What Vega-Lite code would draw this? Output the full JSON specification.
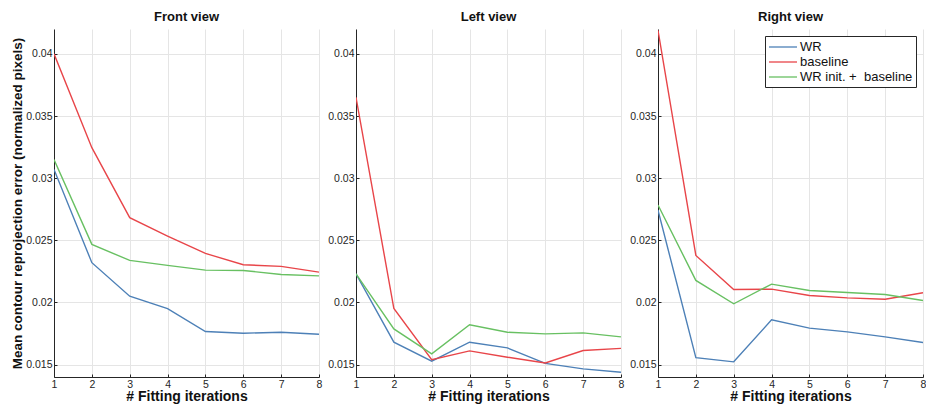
{
  "$schema": "https://vega.github.io/schema/vega-lite/v6.json",
  "background": "white",
  "padding": {"left": 10, "top": 11, "right": 0, "bottom": 0},
  "spacing": 5,
  "config": {
    "view": {"stroke": null},
    "font": "Liberation Sans",
    "axis": {
      "domainColor": "#262626",
      "domainWidth": 1,
      "tickColor": "#262626",
      "gridColor": "#e5e5e5",
      "gridWidth": 1,
      "labelColor": "#262626",
      "labelFont": "Liberation Sans",
      "labelFontSize": 10.5,
      "titleFont": "Liberation Sans",
      "titleFontSize": 14,
      "titleFontWeight": "bold",
      "titleColor": "#111111",
      "tickSize": -3
    },
    "title": {"font": "Liberation Sans", "fontSize": 13, "fontWeight": "bold", "color": "#111111", "offset": 5},
    "legend": {
      "labelFont": "Liberation Sans"
    }
  },
  "data": {
    "values": [
      {"view": "Front", "iter": 1, "method": "WR", "value": 0.0307},
      {"view": "Front", "iter": 2, "method": "WR", "value": 0.0232},
      {"view": "Front", "iter": 3, "method": "WR", "value": 0.0205},
      {"view": "Front", "iter": 4, "method": "WR", "value": 0.0195},
      {"view": "Front", "iter": 5, "method": "WR", "value": 0.01766},
      {"view": "Front", "iter": 6, "method": "WR", "value": 0.01752},
      {"view": "Front", "iter": 7, "method": "WR", "value": 0.0176},
      {"view": "Front", "iter": 8, "method": "WR", "value": 0.01744},
      {"view": "Front", "iter": 1, "method": "baseline", "value": 0.04},
      {"view": "Front", "iter": 2, "method": "baseline", "value": 0.03245},
      {"view": "Front", "iter": 3, "method": "baseline", "value": 0.02682},
      {"view": "Front", "iter": 4, "method": "baseline", "value": 0.02534},
      {"view": "Front", "iter": 5, "method": "baseline", "value": 0.02394},
      {"view": "Front", "iter": 6, "method": "baseline", "value": 0.02303},
      {"view": "Front", "iter": 7, "method": "baseline", "value": 0.0229},
      {"view": "Front", "iter": 8, "method": "baseline", "value": 0.02244},
      {"view": "Front", "iter": 1, "method": "WR init. +\u00a0 baseline", "value": 0.0315},
      {"view": "Front", "iter": 2, "method": "WR init. +\u00a0 baseline", "value": 0.02467},
      {"view": "Front", "iter": 3, "method": "WR init. +\u00a0 baseline", "value": 0.02338},
      {"view": "Front", "iter": 4, "method": "WR init. +\u00a0 baseline", "value": 0.02298},
      {"view": "Front", "iter": 5, "method": "WR init. +\u00a0 baseline", "value": 0.0226},
      {"view": "Front", "iter": 6, "method": "WR init. +\u00a0 baseline", "value": 0.02257},
      {"view": "Front", "iter": 7, "method": "WR init. +\u00a0 baseline", "value": 0.02225},
      {"view": "Front", "iter": 8, "method": "WR init. +\u00a0 baseline", "value": 0.02214},
      {"view": "Left", "iter": 1, "method": "WR", "value": 0.0223},
      {"view": "Left", "iter": 2, "method": "WR", "value": 0.0168},
      {"view": "Left", "iter": 3, "method": "WR", "value": 0.01527},
      {"view": "Left", "iter": 4, "method": "WR", "value": 0.0168},
      {"view": "Left", "iter": 5, "method": "WR", "value": 0.01634},
      {"view": "Left", "iter": 6, "method": "WR", "value": 0.0151},
      {"view": "Left", "iter": 7, "method": "WR", "value": 0.01465},
      {"view": "Left", "iter": 8, "method": "WR", "value": 0.01438},
      {"view": "Left", "iter": 1, "method": "baseline", "value": 0.0365},
      {"view": "Left", "iter": 2, "method": "baseline", "value": 0.01951},
      {"view": "Left", "iter": 3, "method": "baseline", "value": 0.0154},
      {"view": "Left", "iter": 4, "method": "baseline", "value": 0.0161},
      {"view": "Left", "iter": 5, "method": "baseline", "value": 0.01559},
      {"view": "Left", "iter": 6, "method": "baseline", "value": 0.01513},
      {"view": "Left", "iter": 7, "method": "baseline", "value": 0.01613},
      {"view": "Left", "iter": 8, "method": "baseline", "value": 0.0163},
      {"view": "Left", "iter": 1, "method": "WR init. +\u00a0 baseline", "value": 0.0223},
      {"view": "Left", "iter": 2, "method": "WR init. +\u00a0 baseline", "value": 0.01787},
      {"view": "Left", "iter": 3, "method": "WR init. +\u00a0 baseline", "value": 0.01586},
      {"view": "Left", "iter": 4, "method": "WR init. +\u00a0 baseline", "value": 0.0182},
      {"view": "Left", "iter": 5, "method": "WR init. +\u00a0 baseline", "value": 0.0176},
      {"view": "Left", "iter": 6, "method": "WR init. +\u00a0 baseline", "value": 0.01747},
      {"view": "Left", "iter": 7, "method": "WR init. +\u00a0 baseline", "value": 0.01755},
      {"view": "Left", "iter": 8, "method": "WR init. +\u00a0 baseline", "value": 0.01723},
      {"view": "Right", "iter": 1, "method": "WR", "value": 0.02743},
      {"view": "Right", "iter": 2, "method": "WR", "value": 0.01556},
      {"view": "Right", "iter": 3, "method": "WR", "value": 0.01522},
      {"view": "Right", "iter": 4, "method": "WR", "value": 0.0186},
      {"view": "Right", "iter": 5, "method": "WR", "value": 0.01793},
      {"view": "Right", "iter": 6, "method": "WR", "value": 0.01763},
      {"view": "Right", "iter": 7, "method": "WR", "value": 0.01723},
      {"view": "Right", "iter": 8, "method": "WR", "value": 0.01677},
      {"view": "Right", "iter": 1, "method": "baseline", "value": 0.0419},
      {"view": "Right", "iter": 2, "method": "baseline", "value": 0.02378},
      {"view": "Right", "iter": 3, "method": "baseline", "value": 0.02104},
      {"view": "Right", "iter": 4, "method": "baseline", "value": 0.02107},
      {"view": "Right", "iter": 5, "method": "baseline", "value": 0.02056},
      {"view": "Right", "iter": 6, "method": "baseline", "value": 0.02037},
      {"view": "Right", "iter": 7, "method": "baseline", "value": 0.02026},
      {"view": "Right", "iter": 8, "method": "baseline", "value": 0.02078},
      {"view": "Right", "iter": 1, "method": "WR init. +\u00a0 baseline", "value": 0.02784},
      {"view": "Right", "iter": 2, "method": "WR init. +\u00a0 baseline", "value": 0.02177},
      {"view": "Right", "iter": 3, "method": "WR init. +\u00a0 baseline", "value": 0.01989},
      {"view": "Right", "iter": 4, "method": "WR init. +\u00a0 baseline", "value": 0.02147},
      {"view": "Right", "iter": 5, "method": "WR init. +\u00a0 baseline", "value": 0.02096},
      {"view": "Right", "iter": 6, "method": "WR init. +\u00a0 baseline", "value": 0.0208},
      {"view": "Right", "iter": 7, "method": "WR init. +\u00a0 baseline", "value": 0.02064},
      {"view": "Right", "iter": 8, "method": "WR init. +\u00a0 baseline", "value": 0.02016}
    ]
  },
  "resolve": {"scale": {"color": "independent", "y": "independent", "x": "independent"}},
  "hconcat": [
    {
      "title": "Front view",
      "width": 265,
      "height": 348,
      "transform": [{"filter": "datum.view === 'Front'"}],
      "mark": {"type": "line", "strokeWidth": 1.4, "clip": true},
      "encoding": {
        "x": {"field": "iter", "type": "quantitative", "scale": {"domain": [1, 8], "nice": false, "zero": false},
          "axis": {"title": "# Fitting iterations", "values": [1,2,3,4,5,6,7,8], "labelFlush": false, "titlePadding": 0, "labelPadding": 5}},
        "y": {"field": "value", "type": "quantitative", "scale": {"domain": [0.014, 0.042], "nice": false, "zero": false},
          "axis": {"title": "Mean contour reprojection error (normalized pixels)", "values": [0.015, 0.02, 0.025, 0.03, 0.035, 0.04], "format": "~g", "titleFontSize": 13.5, "titlePadding": 1, "labelPadding": 5}},
        "color": {"field": "method", "type": "nominal", "legend": null,
          "scale": {"domain": ["WR", "baseline", "WR init. +\u00a0 baseline"], "range": ["#4d80b7", "#e84549", "#68c062"]}},
        "order": {"field": "iter"}
      }
    },
    {
      "title": "Left view",
      "width": 265,
      "height": 348,
      "transform": [{"filter": "datum.view === 'Left'"}],
      "mark": {"type": "line", "strokeWidth": 1.4, "clip": true},
      "encoding": {
        "x": {"field": "iter", "type": "quantitative", "scale": {"domain": [1, 8], "nice": false, "zero": false},
          "axis": {"title": "# Fitting iterations", "values": [1,2,3,4,5,6,7,8], "labelFlush": false, "titlePadding": 0, "labelPadding": 5}},
        "y": {"field": "value", "type": "quantitative", "scale": {"domain": [0.014, 0.042], "nice": false, "zero": false},
          "axis": {"title": null, "values": [0.015, 0.02, 0.025, 0.03, 0.035, 0.04], "format": "~g", "labelPadding": 5}},
        "color": {"field": "method", "type": "nominal", "legend": null,
          "scale": {"domain": ["WR", "baseline", "WR init. +\u00a0 baseline"], "range": ["#4d80b7", "#e84549", "#68c062"]}},
        "order": {"field": "iter"}
      }
    },
    {
      "title": "Right view",
      "width": 265,
      "height": 348,
      "transform": [{"filter": "datum.view === 'Right'"}],
      "mark": {"type": "line", "strokeWidth": 1.4, "clip": true},
      "encoding": {
        "x": {"field": "iter", "type": "quantitative", "scale": {"domain": [1, 8], "nice": false, "zero": false},
          "axis": {"title": "# Fitting iterations", "values": [1,2,3,4,5,6,7,8], "labelFlush": false, "titlePadding": 0, "labelPadding": 5}},
        "y": {"field": "value", "type": "quantitative", "scale": {"domain": [0.014, 0.042], "nice": false, "zero": false},
          "axis": {"title": null, "values": [0.015, 0.02, 0.025, 0.03, 0.035, 0.04], "format": "~g", "labelPadding": 5}},
        "color": {"field": "method", "type": "nominal",
          "scale": {"domain": ["WR", "baseline", "WR init. +\u00a0 baseline"], "range": ["#4d80b7", "#e84549", "#68c062"]},
          "legend": {"title": null, "orient": "top-right", "offset": 7, "symbolType": "M-1,0H3", "symbolSize": 196, "symbolStrokeWidth": 1.3,
            "labelFontSize": 13, "labelColor": "#111111", "labelOffset": 16, "rowPadding": -1.5, "padding": 3, "strokeColor": "#262626", "fillColor": "white"}},
        "order": {"field": "iter"}
      }
    }
  ]
}
